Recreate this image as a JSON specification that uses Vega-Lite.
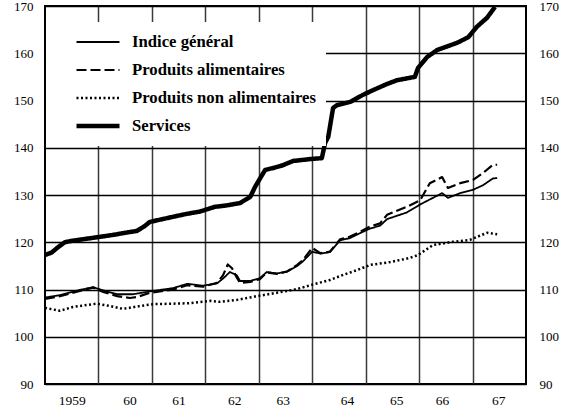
{
  "$schema": "https://vega.github.io/schema/vega-lite/v6.json",
  "width": 481,
  "height": 378,
  "autosize": {"type": "none"},
  "padding": {"left": 45, "top": 6, "right": 37, "bottom": 33},
  "background": "white",
  "datasets": {
    "indices": [
      {"serie": "Services", "annee": 1959.00, "indice": 117.3},
      {"serie": "Services", "annee": 1959.12, "indice": 117.8},
      {"serie": "Services", "annee": 1959.25, "indice": 119.0},
      {"serie": "Services", "annee": 1959.37, "indice": 120.0},
      {"serie": "Services", "annee": 1959.50, "indice": 120.3},
      {"serie": "Services", "annee": 1959.75, "indice": 120.7},
      {"serie": "Services", "annee": 1960.00, "indice": 121.1},
      {"serie": "Services", "annee": 1960.30, "indice": 121.6},
      {"serie": "Services", "annee": 1960.50, "indice": 122.0},
      {"serie": "Services", "annee": 1960.72, "indice": 122.4},
      {"serie": "Services", "annee": 1960.85, "indice": 123.3},
      {"serie": "Services", "annee": 1960.96, "indice": 124.3},
      {"serie": "Services", "annee": 1961.20, "indice": 124.9},
      {"serie": "Services", "annee": 1961.40, "indice": 125.4},
      {"serie": "Services", "annee": 1961.65, "indice": 126.0},
      {"serie": "Services", "annee": 1961.90, "indice": 126.5},
      {"serie": "Services", "annee": 1962.18, "indice": 127.5},
      {"serie": "Services", "annee": 1962.40, "indice": 127.8},
      {"serie": "Services", "annee": 1962.65, "indice": 128.3},
      {"serie": "Services", "annee": 1962.84, "indice": 129.6},
      {"serie": "Services", "annee": 1962.93, "indice": 131.7},
      {"serie": "Services", "annee": 1963.06, "indice": 134.2},
      {"serie": "Services", "annee": 1963.12, "indice": 135.3},
      {"serie": "Services", "annee": 1963.30, "indice": 135.8},
      {"serie": "Services", "annee": 1963.45, "indice": 136.3},
      {"serie": "Services", "annee": 1963.64, "indice": 137.2},
      {"serie": "Services", "annee": 1963.96, "indice": 137.6},
      {"serie": "Services", "annee": 1964.18, "indice": 137.8},
      {"serie": "Services", "annee": 1964.24, "indice": 141.0},
      {"serie": "Services", "annee": 1964.30, "indice": 142.3},
      {"serie": "Services", "annee": 1964.39, "indice": 148.4},
      {"serie": "Services", "annee": 1964.46, "indice": 149.0},
      {"serie": "Services", "annee": 1964.71, "indice": 149.7},
      {"serie": "Services", "annee": 1964.95, "indice": 151.2},
      {"serie": "Services", "annee": 1965.20, "indice": 152.5},
      {"serie": "Services", "annee": 1965.40, "indice": 153.5},
      {"serie": "Services", "annee": 1965.59, "indice": 154.3},
      {"serie": "Services", "annee": 1965.92, "indice": 155.0},
      {"serie": "Services", "annee": 1965.98, "indice": 156.9},
      {"serie": "Services", "annee": 1966.15, "indice": 159.2},
      {"serie": "Services", "annee": 1966.34, "indice": 160.7},
      {"serie": "Services", "annee": 1966.71, "indice": 162.2},
      {"serie": "Services", "annee": 1966.92, "indice": 163.4},
      {"serie": "Services", "annee": 1967.08, "indice": 165.6},
      {"serie": "Services", "annee": 1967.27, "indice": 167.5},
      {"serie": "Services", "annee": 1967.42, "indice": 169.8},

      {"serie": "Indice général", "annee": 1959.00, "indice": 108.3},
      {"serie": "Indice général", "annee": 1959.28, "indice": 108.8},
      {"serie": "Indice général", "annee": 1959.65, "indice": 109.9},
      {"serie": "Indice général", "annee": 1959.90, "indice": 110.5},
      {"serie": "Indice général", "annee": 1960.09, "indice": 109.8},
      {"serie": "Indice général", "annee": 1960.35, "indice": 109.0},
      {"serie": "Indice général", "annee": 1960.65, "indice": 109.0},
      {"serie": "Indice général", "annee": 1960.96, "indice": 109.6},
      {"serie": "Indice général", "annee": 1961.40, "indice": 110.3},
      {"serie": "Indice général", "annee": 1961.66, "indice": 111.2},
      {"serie": "Indice général", "annee": 1961.96, "indice": 110.8},
      {"serie": "Indice général", "annee": 1962.22, "indice": 111.3},
      {"serie": "Indice général", "annee": 1962.33, "indice": 112.3},
      {"serie": "Indice général", "annee": 1962.46, "indice": 113.7},
      {"serie": "Indice général", "annee": 1962.59, "indice": 113.0},
      {"serie": "Indice général", "annee": 1962.65, "indice": 111.8},
      {"serie": "Indice général", "annee": 1962.84, "indice": 111.8},
      {"serie": "Indice général", "annee": 1963.02, "indice": 112.4},
      {"serie": "Indice général", "annee": 1963.15, "indice": 113.7},
      {"serie": "Indice général", "annee": 1963.34, "indice": 113.4},
      {"serie": "Indice général", "annee": 1963.53, "indice": 113.8},
      {"serie": "Indice général", "annee": 1963.72, "indice": 115.0},
      {"serie": "Indice général", "annee": 1963.83, "indice": 116.0},
      {"serie": "Indice général", "annee": 1964.00, "indice": 118.0},
      {"serie": "Indice général", "annee": 1964.15, "indice": 117.6},
      {"serie": "Indice général", "annee": 1964.33, "indice": 117.9},
      {"serie": "Indice général", "annee": 1964.52, "indice": 120.4},
      {"serie": "Indice général", "annee": 1964.71, "indice": 120.9},
      {"serie": "Indice général", "annee": 1964.89, "indice": 121.9},
      {"serie": "Indice général", "annee": 1965.08, "indice": 122.9},
      {"serie": "Indice général", "annee": 1965.27, "indice": 123.5},
      {"serie": "Indice général", "annee": 1965.40, "indice": 124.9},
      {"serie": "Indice général", "annee": 1965.77, "indice": 126.3},
      {"serie": "Indice général", "annee": 1966.02, "indice": 128.0},
      {"serie": "Indice général", "annee": 1966.26, "indice": 129.4},
      {"serie": "Indice général", "annee": 1966.43, "indice": 130.4},
      {"serie": "Indice général", "annee": 1966.54, "indice": 129.4},
      {"serie": "Indice général", "annee": 1966.77, "indice": 130.4},
      {"serie": "Indice général", "annee": 1967.01, "indice": 131.1},
      {"serie": "Indice général", "annee": 1967.20, "indice": 132.1},
      {"serie": "Indice général", "annee": 1967.38, "indice": 133.5},
      {"serie": "Indice général", "annee": 1967.46, "indice": 133.6},

      {"serie": "Produits alimentaires", "annee": 1959.00, "indice": 108.0},
      {"serie": "Produits alimentaires", "annee": 1959.28, "indice": 108.6},
      {"serie": "Produits alimentaires", "annee": 1959.65, "indice": 109.7},
      {"serie": "Produits alimentaires", "annee": 1959.90, "indice": 110.4},
      {"serie": "Produits alimentaires", "annee": 1960.09, "indice": 109.5},
      {"serie": "Produits alimentaires", "annee": 1960.35, "indice": 108.6},
      {"serie": "Produits alimentaires", "annee": 1960.59, "indice": 108.2},
      {"serie": "Produits alimentaires", "annee": 1960.72, "indice": 108.4},
      {"serie": "Produits alimentaires", "annee": 1960.96, "indice": 109.3},
      {"serie": "Produits alimentaires", "annee": 1961.40, "indice": 110.0},
      {"serie": "Produits alimentaires", "annee": 1961.66, "indice": 110.9},
      {"serie": "Produits alimentaires", "annee": 1961.96, "indice": 110.6},
      {"serie": "Produits alimentaires", "annee": 1962.22, "indice": 111.4},
      {"serie": "Produits alimentaires", "annee": 1962.33, "indice": 113.0},
      {"serie": "Produits alimentaires", "annee": 1962.42, "indice": 115.3},
      {"serie": "Produits alimentaires", "annee": 1962.50, "indice": 114.5},
      {"serie": "Produits alimentaires", "annee": 1962.59, "indice": 112.5},
      {"serie": "Produits alimentaires", "annee": 1962.65, "indice": 111.4},
      {"serie": "Produits alimentaires", "annee": 1962.84, "indice": 111.6},
      {"serie": "Produits alimentaires", "annee": 1963.02, "indice": 112.2},
      {"serie": "Produits alimentaires", "annee": 1963.15, "indice": 113.6},
      {"serie": "Produits alimentaires", "annee": 1963.34, "indice": 113.3},
      {"serie": "Produits alimentaires", "annee": 1963.53, "indice": 113.8},
      {"serie": "Produits alimentaires", "annee": 1963.72, "indice": 115.2},
      {"serie": "Produits alimentaires", "annee": 1963.83, "indice": 116.3},
      {"serie": "Produits alimentaires", "annee": 1964.00, "indice": 118.8},
      {"serie": "Produits alimentaires", "annee": 1964.15, "indice": 117.7},
      {"serie": "Produits alimentaires", "annee": 1964.33, "indice": 118.0},
      {"serie": "Produits alimentaires", "annee": 1964.52, "indice": 120.6},
      {"serie": "Produits alimentaires", "annee": 1964.71, "indice": 121.2},
      {"serie": "Produits alimentaires", "annee": 1964.89, "indice": 122.2},
      {"serie": "Produits alimentaires", "annee": 1965.08, "indice": 123.3},
      {"serie": "Produits alimentaires", "annee": 1965.27, "indice": 124.0},
      {"serie": "Produits alimentaires", "annee": 1965.40, "indice": 125.8},
      {"serie": "Produits alimentaires", "annee": 1965.77, "indice": 127.5},
      {"serie": "Produits alimentaires", "annee": 1966.02, "indice": 128.9},
      {"serie": "Produits alimentaires", "annee": 1966.20, "indice": 132.5},
      {"serie": "Produits alimentaires", "annee": 1966.43, "indice": 133.8},
      {"serie": "Produits alimentaires", "annee": 1966.54, "indice": 131.5},
      {"serie": "Produits alimentaires", "annee": 1966.77, "indice": 132.5},
      {"serie": "Produits alimentaires", "annee": 1967.01, "indice": 133.2},
      {"serie": "Produits alimentaires", "annee": 1967.20, "indice": 134.7},
      {"serie": "Produits alimentaires", "annee": 1967.38, "indice": 136.4},
      {"serie": "Produits alimentaires", "annee": 1967.46, "indice": 136.4},

      {"serie": "Produits non alimentaires", "annee": 1959.00, "indice": 106.1},
      {"serie": "Produits non alimentaires", "annee": 1959.28, "indice": 105.5},
      {"serie": "Produits non alimentaires", "annee": 1959.52, "indice": 106.3},
      {"serie": "Produits non alimentaires", "annee": 1959.97, "indice": 107.0},
      {"serie": "Produits non alimentaires", "annee": 1960.22, "indice": 106.5},
      {"serie": "Produits non alimentaires", "annee": 1960.46, "indice": 105.9},
      {"serie": "Produits non alimentaires", "annee": 1960.78, "indice": 106.5},
      {"serie": "Produits non alimentaires", "annee": 1961.02, "indice": 106.9},
      {"serie": "Produits non alimentaires", "annee": 1961.40, "indice": 107.0},
      {"serie": "Produits non alimentaires", "annee": 1961.71, "indice": 107.1},
      {"serie": "Produits non alimentaires", "annee": 1962.09, "indice": 107.6},
      {"serie": "Produits non alimentaires", "annee": 1962.27, "indice": 107.4},
      {"serie": "Produits non alimentaires", "annee": 1962.59, "indice": 107.8},
      {"serie": "Produits non alimentaires", "annee": 1962.97, "indice": 108.6},
      {"serie": "Produits non alimentaires", "annee": 1963.34, "indice": 109.3},
      {"serie": "Produits non alimentaires", "annee": 1963.72, "indice": 110.1},
      {"serie": "Produits non alimentaires", "annee": 1963.96, "indice": 110.9},
      {"serie": "Produits non alimentaires", "annee": 1964.33, "indice": 112.0},
      {"serie": "Produits non alimentaires", "annee": 1964.58, "indice": 113.1},
      {"serie": "Produits non alimentaires", "annee": 1964.84, "indice": 114.1},
      {"serie": "Produits non alimentaires", "annee": 1965.08, "indice": 115.2},
      {"serie": "Produits non alimentaires", "annee": 1965.46, "indice": 115.8},
      {"serie": "Produits non alimentaires", "annee": 1965.83, "indice": 116.7},
      {"serie": "Produits non alimentaires", "annee": 1965.98, "indice": 117.3},
      {"serie": "Produits non alimentaires", "annee": 1966.26, "indice": 119.4},
      {"serie": "Produits non alimentaires", "annee": 1966.63, "indice": 120.1},
      {"serie": "Produits non alimentaires", "annee": 1966.95, "indice": 120.5},
      {"serie": "Produits non alimentaires", "annee": 1967.27, "indice": 122.0},
      {"serie": "Produits non alimentaires", "annee": 1967.46, "indice": 121.7}
    ]
  },
  "data": {"name": "indices"},
  "layer": [
    {
      "mark": {"type": "line", "color": "black", "strokeCap": "butt", "strokeJoin": "round"},
      "encoding": {
        "x": {
          "field": "annee", "type": "quantitative",
          "scale": {"domain": [1959, 1968], "nice": false, "zero": false},
          "axis": {"orient": "bottom", "values": [1960, 1961, 1962, 1963, 1964, 1965, 1966, 1967], "grid": true, "gridColor": "#3a3a3a", "gridWidth": 1.5, "labels": false, "ticks": false, "domain": false, "title": null}
        },
        "y": {
          "field": "indice", "type": "quantitative",
          "scale": {"domain": [90, 170], "nice": false, "zero": false},
          "axis": {"orient": "left", "values": [90, 100, 110, 120, 130, 140, 150, 160, 170], "grid": true, "gridColor": "black", "gridWidth": 1.4, "ticks": false, "domain": false, "labelPadding": 12, "title": null}
        },
        "strokeDash": {
          "field": "serie", "type": "nominal",
          "scale": {"domain": ["Indice général", "Produits alimentaires", "Produits non alimentaires", "Services"], "range": [[1, 0], [10, 4], [2, 2.5], [1, 0]]},
          "legend": {"title": null}
        },
        "strokeWidth": {
          "field": "serie", "type": "nominal",
          "scale": {"type": "ordinal", "domain": ["Indice général", "Produits alimentaires", "Produits non alimentaires", "Services"], "range": [1.8, 2.2, 2.5, 4.5]},
          "legend": {"title": null}
        }
      }
    },
    {
      "mark": {"type": "point", "opacity": 0},
      "encoding": {
        "x": {
          "field": "annee", "type": "quantitative",
          "scale": {"domain": [1959, 1968], "nice": false, "zero": false},
          "axis": {"orient": "bottom", "values": [1959.5, 1960.58, 1961.5, 1962.54, 1963.45, 1964.65, 1965.57, 1966.43, 1967.48], "labelExpr": "datum.value < 1960 ? '1959' : format(floor(datum.value) % 100, 'd')", "grid": false, "ticks": false, "domain": false, "labelPadding": 9, "labelFlush": false, "labelOverlap": false, "labelFontSize": 13.5, "title": null}
        },
        "y": {
          "field": "indice", "type": "quantitative",
          "scale": {"domain": [90, 170], "nice": false, "zero": false},
          "axis": {"orient": "right", "values": [90, 100, 110, 120, 130, 140, 150, 160, 170], "grid": false, "ticks": false, "domain": false, "labelPadding": 13, "title": null}
        }
      }
    }
  ],
  "resolve": {"axis": {"x": "independent", "y": "independent"}},
  "config": {
    "view": {"stroke": "black", "strokeWidth": 2},
    "axis": {"labelFont": "Liberation Serif", "labelFontSize": 13, "labelColor": "black", "title": null},
    "legend": {
      "orient": "none", "legendX": 1, "legendY": 16,
      "fillColor": "white", "padding": 10,
      "symbolType": "stroke", "symbolSize": 1849, "symbolStrokeColor": "black", "symbolOffset": 18,
      "labelFont": "Liberation Serif", "labelFontSize": 16.7, "labelFontWeight": "bold", "labelColor": "black",
      "labelOffset": 10, "labelLimit": 320, "clipHeight": 20, "rowPadding": 8
    }
  }
}
